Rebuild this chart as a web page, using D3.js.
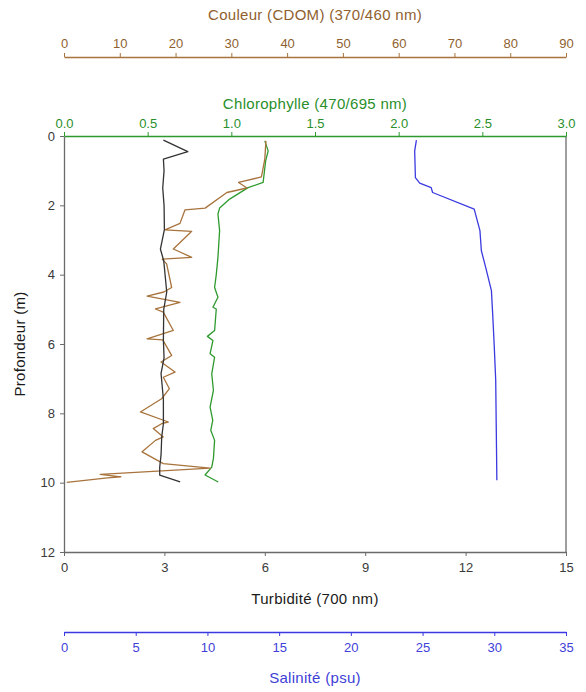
<!DOCTYPE html>
<html>
<head>
<meta charset="utf-8">
<script src="https://cdn.jsdelivr.net/npm/d3@7"></script>
<style>
  body { margin: 0; background: #fff; }
  text { font-family: "Liberation Sans", Arial, sans-serif; }
</style>
</head>
<body>
<div id="chart"></div>
<script>
// Profile data (depth in m, value in each unit)
let turbDepth = [0.12, 0.45, 0.67, 1.0, 1.5, 2.0, 2.7, 3.26, 3.6, 4.5, 5.0, 5.9, 6.4, 6.85, 7.6, 8.3, 8.68, 9.2, 9.55, 9.78, 9.98];
let turbVals  = [2.97, 3.70, 2.97, 2.99, 2.95, 2.99, 3.00, 2.88, 2.98, 3.07, 2.98, 2.97, 2.99, 2.90, 2.97, 2.97, 2.92, 2.90, 2.86, 2.86, 3.47];

let chlDepth = [0.14, 0.43, 0.72, 1.34, 1.49, 1.82, 2.08, 2.25, 2.73, 3.5, 4.0, 4.37, 4.65, 4.94, 4.99, 5.61, 5.78, 5.9, 6.28, 6.38, 6.86, 7.34, 7.82, 8.2, 8.49, 8.78, 9.3, 9.55, 9.78, 9.98];
let chlVals  = [1.20, 1.22, 1.205, 1.19, 1.10, 0.99, 0.93, 0.92, 0.93, 0.92, 0.91, 0.90, 0.92, 0.89, 0.91, 0.90, 0.857, 0.89, 0.873, 0.90, 0.883, 0.893, 0.873, 0.889, 0.877, 0.90, 0.893, 0.883, 0.843, 0.922];

let cdomDepth = [0.14, 0.67, 1.18, 1.34, 1.5, 1.63, 2.08, 2.13, 2.52, 2.71, 2.75, 3.26, 3.5, 3.55, 3.69, 4.37, 4.5, 4.62, 4.8, 4.99, 5.08, 5.61, 5.85, 5.88, 6.33, 6.52, 6.81, 6.96, 7.29, 7.58, 7.96, 8.25, 8.3, 8.44, 8.68, 8.78, 9.11, 9.45, 9.58, 9.76, 9.83, 9.86, 9.99];
let cdomVals  = [36.2, 36.0, 35.4, 31.3, 32.8, 29.2, 25.3, 21.7, 20.8, 18.1, 22.9, 19.6, 22.9, 17.6, 18.4, 19.3, 17.9, 14.9, 20.8, 16.4, 17.8, 19.6, 14.9, 17.7, 19.3, 17.4, 19.9, 17.8, 18.9, 17.5, 13.7, 18.7, 17.5, 16.0, 17.8, 16.4, 14.0, 17.8, 26.2, 6.5, 10.2, 7.8, 0.5];

let salDepth = [0.12, 0.43, 1.2, 1.36, 1.49, 1.63, 2.11, 2.73, 3.31, 3.79, 4.46, 5.23, 6.09, 7.05, 8.49, 9.93];
let salVals  = [24.57, 24.45, 24.5, 24.8, 25.6, 25.7, 28.6, 29.0, 29.1, 29.4, 29.8, 29.9, 30.0, 30.1, 30.14, 30.18];

// tick values
let depthTicks = [0, 2, 4, 6, 8, 10, 12];
let turbTicks = [0, 3, 6, 9, 12, 15];
let chlTicks = [0, 0.5, 1, 1.5, 2, 2.5, 3];
let cdomTicks = [0, 10, 20, 30, 40, 50, 60, 70, 80, 90];
let salTicks = [0, 5, 10, 15, 20, 25, 30, 35];

let svgWidth = 586;
let svgHeight = 692;

let plot = { left: 64, right: 566, top: 136, bottom: 552 };

let colors = {
    axis: "#6a6a6a",
    text: "#3a3a3a",
    turb: "#333333",
    chl: "#2e9a2e",
    chlText: "#2a8f2a",
    cdom: "#a8733c",
    cdomText: "#8f5f2f",
    sal: "#3a3ae0",
    salText: "#4040d8"
};

let svg = d3.select("#chart")
    .append("svg")
    .attr("width", svgWidth)
    .attr("height", svgHeight);

// scales
let yScale = d3.scaleLinear().domain([0, 12]).range([plot.top, plot.bottom]);
let turbScale = d3.scaleLinear().domain([0, 15]).range([plot.left, plot.right]);
let chlScale = d3.scaleLinear().domain([0, 3]).range([plot.left, plot.right]);
let cdomScale = d3.scaleLinear().domain([0, 90]).range([plot.left, plot.right]);
let salScale = d3.scaleLinear().domain([0, 35]).range([plot.left, plot.right]);

function styleAxis(g, color, textColor) {
    g.select(".domain").attr("stroke", color).attr("stroke-width", 1.3);
    g.selectAll(".tick line").attr("stroke", color);
    g.selectAll(".tick text")
        .attr("fill", textColor)
        .style("font-size", "13px")
        .style("font-family", "Liberation Sans, Arial, sans-serif");
}

// right frame line
svg.append("line")
    .attr("x1", plot.right).attr("x2", plot.right)
    .attr("y1", plot.top).attr("y2", plot.bottom)
    .attr("stroke", colors.axis)
    .attr("stroke-width", 1.3);

// left depth axis
let leftAxis = svg.append("g")
    .attr("transform", `translate(${plot.left}, 0)`)
    .call(d3.axisLeft(yScale).tickValues(depthTicks).tickSize(4).tickSizeOuter(0).tickPadding(5));
styleAxis(leftAxis, colors.axis, colors.text);

// bottom turbidity axis
let turbAxis = svg.append("g")
    .attr("transform", `translate(0, ${plot.bottom})`)
    .call(d3.axisBottom(turbScale).tickValues(turbTicks).tickSize(4).tickSizeOuter(0).tickPadding(7));
styleAxis(turbAxis, colors.axis, colors.text);

// top chlorophyll axis
let chlAxis = svg.append("g")
    .attr("transform", `translate(0, ${plot.top})`)
    .call(d3.axisTop(chlScale).tickValues(chlTicks).tickFormat(d3.format(".1f")).tickSize(4).tickSizeOuter(0).tickPadding(4));
styleAxis(chlAxis, colors.chl, colors.chlText);

// CDOM axis, further up
let cdomAxis = svg.append("g")
    .attr("transform", `translate(0, 57)`)
    .call(d3.axisTop(cdomScale).tickValues(cdomTicks).tickSize(4).tickSizeOuter(0).tickPadding(5));
styleAxis(cdomAxis, colors.cdom, colors.cdomText);

// salinity axis, further down
let salAxis = svg.append("g")
    .attr("transform", `translate(0, 632)`)
    .call(d3.axisBottom(salScale).tickValues(salTicks).tickSize(4).tickSizeOuter(0).tickPadding(7));
styleAxis(salAxis, colors.sal, colors.salText);

// profile lines
function drawProfile(depths, vals, xScale, color) {
    let pts = depths.map((d, i) => [xScale(vals[i]), yScale(d)]);
    svg.append("path")
        .datum(pts)
        .attr("fill", "none")
        .attr("stroke", color)
        .attr("stroke-width", 1.3)
        .attr("stroke-linejoin", "round")
        .attr("d", d3.line());
}

drawProfile(salDepth, salVals, salScale, colors.sal);
drawProfile(chlDepth, chlVals, chlScale, colors.chl);
drawProfile(cdomDepth, cdomVals, cdomScale, colors.cdom);
drawProfile(turbDepth, turbVals, turbScale, colors.turb);

// axis titles
let midX = (plot.left + plot.right) / 2;

function addTitle(x, y, color, label) {
    return svg.append("text")
        .attr("x", x).attr("y", y)
        .attr("text-anchor", "middle")
        .attr("fill", color)
        .style("font-size", "15px")
        .style("letter-spacing", "0.3px")
        .text(label);
}

addTitle(midX, 20, colors.cdomText, "Couleur (CDOM) (370/460 nm)");
addTitle(midX, 109, colors.chlText, "Chlorophylle (470/695 nm)");
addTitle(midX, 604, "#1a1a1a", "Turbidité (700 nm)");
addTitle(midX, 683, colors.salText, "Salinité (psu)");

svg.append("text")
    .attr("transform", `translate(25, ${(plot.top + plot.bottom) / 2}) rotate(-90)`)
    .attr("text-anchor", "middle")
    .attr("fill", "#1a1a1a")
    .style("font-size", "15px")
    .style("letter-spacing", "0.3px")
    .text("Profondeur (m)");
</script>
</body>
</html>
